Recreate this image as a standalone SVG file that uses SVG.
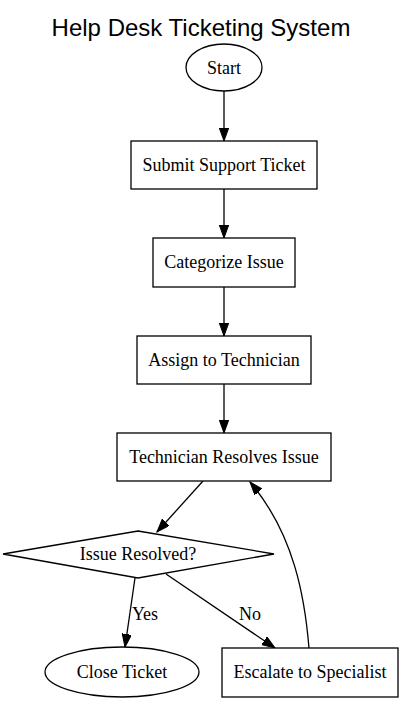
<svg xmlns="http://www.w3.org/2000/svg" width="403" height="702" viewBox="0 0 403 702">
<style>
.node{fill:#fff;stroke:#000;stroke-width:1.3}
.lbl{font-family:"Liberation Serif","Times New Roman",serif;font-size:18px;fill:#000;text-anchor:middle}
.edge{fill:none;stroke:#000;stroke-width:1.3}
.title{font-family:"Liberation Sans",Arial,sans-serif;font-size:24px;fill:#000;text-anchor:middle}
</style>
<defs>
<marker id="arr" markerUnits="userSpaceOnUse" markerWidth="14" markerHeight="10" refX="13" refY="4.7" orient="auto">
<path d="M0,0 L13,4.7 L0,9.4 z" fill="#000" stroke="#000" stroke-width="1"/>
</marker>
</defs>
<rect width="403" height="702" fill="#fff"/>
<text class="title" x="201" y="36">Help Desk Ticketing System</text>
<g id="connectors">
<path class="edge" d="M224,91 L224,141" marker-end="url(#arr)"/>
<path class="edge" d="M224,189 L224,238" marker-end="url(#arr)"/>
<path class="edge" d="M224,287 L224,336" marker-end="url(#arr)"/>
<path class="edge" d="M224,384 L224,433" marker-end="url(#arr)"/>
<path class="edge" d="M203,481 L157,532" marker-end="url(#arr)"/>
<path class="edge" d="M135,578 L125,647" marker-end="url(#arr)"/>
<path class="edge" d="M166,574 L275,648" marker-end="url(#arr)"/>
<path class="edge" d="M309,648 C305,600 295,535 250,482" marker-end="url(#arr)"/>
<text class="lbl" x="145" y="620">Yes</text>
<text class="lbl" x="250" y="620">No</text>
</g>
<g id="start"><ellipse class="node" cx="224" cy="67.5" rx="38" ry="23.5"/><text class="lbl" x="224" y="74">Start</text></g>
<g id="submit"><rect class="node" x="131" y="141" width="186" height="48"/><text class="lbl" x="224" y="171">Submit Support Ticket</text></g>
<g id="categorize"><rect class="node" x="153" y="238" width="142" height="49"/><text class="lbl" x="224" y="268">Categorize Issue</text></g>
<g id="assign"><rect class="node" x="137" y="336" width="174" height="48"/><text class="lbl" x="224" y="366">Assign to Technician</text></g>
<g id="resolve"><rect class="node" x="117" y="433" width="214" height="48"/><text class="lbl" x="224" y="463">Technician Resolves Issue</text></g>
<g id="decision"><polygon class="node" points="138,531 274,554 138,578 3,554"/><text class="lbl" x="138" y="560">Issue Resolved?</text></g>
<g id="close"><ellipse class="node" cx="122" cy="672" rx="77" ry="25"/><text class="lbl" x="122" y="678">Close Ticket</text></g>
<g id="escalate"><rect class="node" x="222" y="648" width="176" height="49"/><text class="lbl" x="310" y="678">Escalate to Specialist</text></g>
</svg>
